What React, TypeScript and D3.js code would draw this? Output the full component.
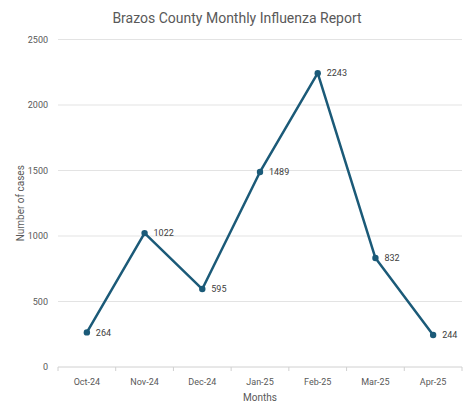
import React, { useEffect, useRef } from "react";
import * as d3 from "d3";

const months = ["Oct-24", "Nov-24", "Dec-24", "Jan-25", "Feb-25", "Mar-25", "Apr-25"];
const cases = [264, 1022, 595, 1489, 2243, 832, 244];
const yTicks = [0, 500, 1000, 1500, 2000, 2500];

const App = () => {
  const chartRef = useRef<SVGSVGElement | null>(null);

  useEffect(() => {
    if (!chartRef.current) return;
    const svg = d3.select(chartRef.current);
    svg.selectAll("*").remove();

    const width = 474;
    const height = 414;
    const margin = { top: 39.5, right: 12, bottom: 47, left: 58 };
    const font = "Roboto, 'Noto Sans', sans-serif";
    const lineColor = "#1b5a78";
    const textColor = "#595959";

    svg.append("rect").attr("width", width).attr("height", height).attr("fill", "#fff");

    const xScale = d3
      .scaleBand()
      .domain(months)
      .range([margin.left, width - margin.right]);

    const yScale = d3
      .scaleLinear()
      .domain([0, 2500])
      .range([height - margin.bottom, margin.top]);

    // grid
    svg
      .append("g")
      .selectAll("line")
      .data(yTicks)
      .enter()
      .append("line")
      .attr("x1", margin.left)
      .attr("x2", width - margin.right)
      .attr("y1", (d) => yScale(d))
      .attr("y2", (d) => yScale(d))
      .attr("stroke", (d) => (d === 0 ? "#d0d0d0" : "#e3e3e3"))
      .attr("stroke-width", 1);

    // category tick marks
    const bounds = months.map((m) => xScale(m)!).concat([width - margin.right]);
    svg
      .append("g")
      .selectAll("line")
      .data(bounds)
      .enter()
      .append("line")
      .attr("x1", (d) => d)
      .attr("x2", (d) => d)
      .attr("y1", yScale(0))
      .attr("y2", yScale(0) + 4)
      .attr("stroke", "#d0d0d0");

    // y labels
    svg
      .append("g")
      .selectAll("text")
      .data(yTicks)
      .enter()
      .append("text")
      .attr("x", 48)
      .attr("y", (d) => yScale(d))
      .attr("dy", "0.35em")
      .attr("text-anchor", "end")
      .attr("font-family", font)
      .attr("font-size", 9)
      .attr("fill", textColor)
      .text((d) => d);

    // x labels
    svg
      .append("g")
      .selectAll("text")
      .data(months)
      .enter()
      .append("text")
      .attr("x", (d) => xScale(d)! + xScale.bandwidth() / 2)
      .attr("y", yScale(0) + 15)
      .attr("dy", "0.35em")
      .attr("text-anchor", "middle")
      .attr("font-family", font)
      .attr("font-size", 9)
      .attr("fill", textColor)
      .text((d) => d);

    // line
    const line = d3
      .line<number>()
      .x((_, i) => xScale(months[i])! + xScale.bandwidth() / 2)
      .y((d) => yScale(d));

    svg
      .append("path")
      .datum(cases)
      .attr("d", line)
      .attr("fill", "none")
      .attr("stroke", lineColor)
      .attr("stroke-width", 2.5)
      .attr("stroke-linejoin", "round");

    svg
      .append("g")
      .selectAll("circle")
      .data(cases)
      .enter()
      .append("circle")
      .attr("cx", (_, i) => xScale(months[i])! + xScale.bandwidth() / 2)
      .attr("cy", (d) => yScale(d))
      .attr("r", 3.2)
      .attr("fill", lineColor);

    svg
      .append("g")
      .selectAll("text")
      .data(cases)
      .enter()
      .append("text")
      .attr("x", (_, i) => xScale(months[i])! + xScale.bandwidth() / 2 + 9)
      .attr("y", (d) => yScale(d))
      .attr("dy", "0.35em")
      .attr("font-family", font)
      .attr("font-size", 9)
      .attr("fill", "#404040")
      .text((d) => d);

    // titles
    svg
      .append("text")
      .attr("x", 237)
      .attr("y", 18)
      .attr("dy", "0.35em")
      .attr("text-anchor", "middle")
      .attr("font-family", font)
      .attr("font-size", 14)
      .attr("fill", textColor)
      .text("Brazos County Monthly Influenza Report");

    svg
      .append("text")
      .attr("x", (margin.left + width - margin.right) / 2)
      .attr("y", 397)
      .attr("dy", "0.35em")
      .attr("text-anchor", "middle")
      .attr("font-family", font)
      .attr("font-size", 10)
      .attr("fill", textColor)
      .text("Months");

    svg
      .append("text")
      .attr("transform", `translate(20, ${(margin.top + height - margin.bottom) / 2}) rotate(-90)`)
      .attr("dy", "0.35em")
      .attr("text-anchor", "middle")
      .attr("font-family", font)
      .attr("font-size", 10)
      .attr("fill", textColor)
      .text("Number of cases");
  }, []);

  return (
    <svg
      ref={chartRef}
      width={474}
      height={414}
      style={{ position: "absolute", left: 0, top: 0 }}
    ></svg>
  );
};

export default App;
